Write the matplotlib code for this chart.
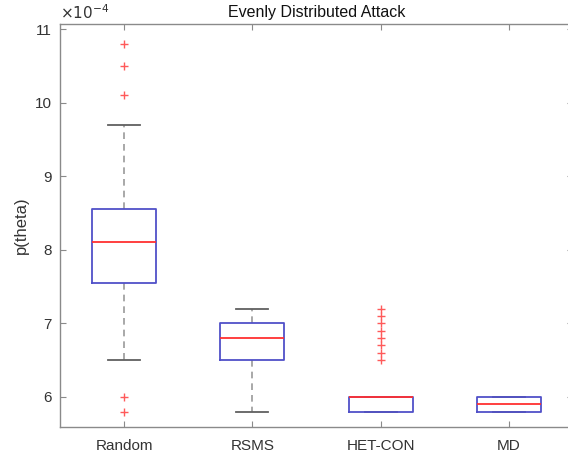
import matplotlib
matplotlib.use("Agg")
import matplotlib.pyplot as plt

categories = ["Random", "RSMS", "HET-CON", "MD"]
# values in units of 1e-4
q1 = [7.55, 6.5, 5.8, 5.8]
med = [8.1, 6.8, 6.0, 5.9]
q3 = [8.55, 7.0, 6.0, 6.0]
whislo = [6.5, 5.8, 5.8, 5.8]
whishi = [9.7, 7.2, 6.0, 6.0]
fliers = [
    [10.8, 10.5, 10.1, 6.0, 5.8],
    [],
    [7.2, 7.1, 7.0, 6.9, 6.8, 6.7, 6.6, 6.5],
    [],
]
yticks = [6, 7, 8, 9, 10, 11]

stats = []
for i, c in enumerate(categories):
    stats.append(dict(label=c, q1=q1[i], med=med[i], q3=q3[i],
                      whislo=whislo[i], whishi=whishi[i], fliers=fliers[i]))

text_col = "#333333"
plt.rcParams["font.family"] = ["Liberation Sans", "DejaVu Sans"]

fig = plt.figure(figsize=(5.68, 4.59), dpi=100)
ax = fig.add_axes([60/568, 32/459, 513/568, 403/459])

res = ax.bxp(stats, positions=[1, 2, 3, 4], widths=0.5, showfliers=True,
             boxprops=dict(color="#5050c8", linewidth=1.3),
             medianprops=dict(color="#ff3030", linewidth=1.3),
             whiskerprops=dict(color="#9a9a9a", linewidth=1.2, linestyle=(0, (4, 3))),
             capprops=dict(color="#606060", linewidth=1.3),
             capwidths=0.25,
             flierprops=dict(marker="+", markeredgecolor="#ff5a5a", markersize=6,
                             markeredgewidth=1.0, linestyle="none"))
for b in res["boxes"]:
    b.set_zorder(3)
for m in res["medians"]:
    m.set_zorder(4)

ax.set_xlim(0.5, 4.5)
ax.set_ylim(5.59, 11.07)
ax.set_yticks(yticks)
ax.set_yticklabels([str(t) for t in yticks])
ax.set_xticks([1, 2, 3, 4])
ax.set_xticklabels(categories)

for s in ax.spines.values():
    s.set_color("#8a8a8a")
    s.set_linewidth(1.0)
ax.tick_params(direction="in", length=4, color="#8a8a8a", labelcolor=text_col,
               labelsize=11, top=True, right=True, pad=9)
ax.tick_params(axis="y", pad=6)

ax.set_ylabel("p(theta)", fontsize=12, color=text_col, labelpad=4)
ax.set_title("Evenly Distributed Attack", fontsize=11.5, color="#111111", pad=5)
ax.text(0.0, 1.005, r"$\times10^{-4}$", transform=ax.transAxes, fontsize=11,
        color=text_col, ha="left", va="bottom")

fig.savefig("out.png", dpi=100)
